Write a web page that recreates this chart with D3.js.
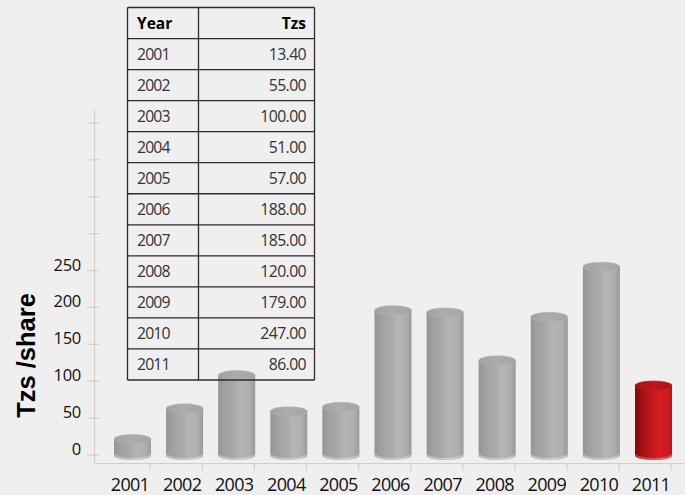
<!DOCTYPE html>
<html>
<head>
<meta charset="utf-8">
<script src="https://cdn.jsdelivr.net/npm/d3@7/dist/d3.min.js"></script>
<style>
  html, body { margin: 0; padding: 0; background: #efefef; }
  svg { display: block; }
</style>
</head>
<body>
<svg id="chart" width="685" height="495"></svg>
<script>
// Share price per year (Tzs)
const years  = ["2001","2002","2003","2004","2005","2006","2007","2008","2009","2010","2011"];
const values = [13.4, 55, 100, 51, 57, 188, 185, 120, 179, 247, 86];
const highlightYear = "2011";

// Value axis: labelled ticks and the unlabelled ones above them
const labelledTicks = [0, 50, 100, 150, 200, 250];
const plainTicks    = [300, 350, 400, 450];

// Table column headings
const tableHeads = ["Year", "Tzs"];

const svg = d3.select("#chart");
const W = 685, H = 495;

svg.append("rect").attr("width", W).attr("height", H).attr("fill", "#efefef");

const x = d3.scaleBand().domain(years).range([106.45, 106.45 + 52.1 * years.length]).padding(0);
const y = d3.scaleLinear().domain([0, 450]).range([455, 123]);

const rx = 18.5, ry = 4.6, depth = 6;
const axisColor = "#cfcfcf";

// ---- gradients ----
const defs = svg.append("defs");
function bodyGrad(id, stops) {
  const g = defs.append("linearGradient").attr("id", id)
    .attr("x1", "0%").attr("x2", "100%").attr("y1", "0%").attr("y2", "0%");
  stops.forEach(([o, c]) => g.append("stop").attr("offset", o).attr("stop-color", c));
}
bodyGrad("grayBody", [["0%", "#929395"], ["12%", "#9d9ea0"], ["45%", "#a9aaac"], ["62%", "#b5b6b8"], ["85%", "#adaeb0"], ["100%", "#98999b"]]);
bodyGrad("redBody",  [["0%", "#7f090b"], ["18%", "#a01014"], ["45%", "#c4181d"], ["65%", "#d71d23"], ["88%", "#cc1a1f"], ["100%", "#b3151a"]]);
bodyGrad("grayTop",  [["0%", "#a1a2a4"], ["50%", "#abacae"], ["100%", "#a3a4a6"]]);
bodyGrad("redTop",   [["0%", "#a51317"], ["50%", "#b9171c"], ["100%", "#ab1418"]]);

// ---- value axis ----
const axisX = 94.5;
svg.append("line").attr("x1", axisX).attr("x2", axisX).attr("y1", 109).attr("y2", 463.5)
  .attr("stroke", axisColor).attr("stroke-width", 1.2);
svg.append("line").attr("x1", axisX).attr("x2", W).attr("y1", 463.5).attr("y2", 463.5)
  .attr("stroke", axisColor).attr("stroke-width", 1.2);

const allTicks = labelledTicks.concat(plainTicks);
svg.append("g").selectAll("line").data(allTicks).join("line")
  .attr("x1", 87).attr("x2", 99.5)
  .attr("y1", d => y(d)).attr("y2", d => y(d))
  .attr("stroke", axisColor).attr("stroke-width", 1.2);

svg.append("g").selectAll("text").data(labelledTicks).join("text")
  .attr("x", 81).attr("y", d => y(d))
  .attr("text-anchor", "end")
  .attr("font-family", "'Open Sans', sans-serif").attr("font-size", 16.5)
  .attr("letter-spacing", -0.3)
  .attr("fill", "#111")
  .text(d => d);

svg.append("text")
  .attr("transform", `translate(35,${355.5}) rotate(-90)`)
  .attr("text-anchor", "middle")
  .attr("font-family", "'Liberation Sans', Arial, sans-serif")
  .attr("font-weight", "bold").attr("font-size", 25.5)
  .attr("fill", "#000")
  .text("Tzs /share");

// ---- category ticks and labels ----
const cx = d => x(d) + x.bandwidth() / 2;
svg.append("g").selectAll("line").data(years).join("line")
  .attr("x1", d => cx(d) + 17.7).attr("x2", d => cx(d) + 17.7)
  .attr("y1", 463.5).attr("y2", 470.5)
  .attr("stroke", axisColor).attr("stroke-width", 1.2);

svg.append("g").selectAll("text").data(years).join("text")
  .attr("x", d => cx(d) - 2.5).attr("y", 491)
  .attr("text-anchor", "middle")
  .attr("font-family", "'Open Sans', sans-serif").attr("font-size", 18)
  .attr("letter-spacing", -0.7)
  .attr("fill", "#111")
  .text(d => d);

// ---- cylinders ----
const data = years.map((yr, i) => ({ year: yr, value: values[i] }));
const bars = svg.append("g").selectAll("g").data(data).join("g");

bars.each(function (d) {
  const g = d3.select(this);
  const c = cx(d.year);
  const top = y(d.value) - depth;
  const bot = y(0) + 0.5;
  const red = d.year === highlightYear;
  const body = red ? "url(#redBody)" : "url(#grayBody)";
  // body with rounded bottom
  g.append("path")
    .attr("d", `M${c - rx},${top} L${c - rx},${bot} A${rx},${ry} 0 0 0 ${c + rx},${bot} L${c + rx},${top} Z`)
    .attr("fill", body);
  // faint light rim near the floor
  g.append("path")
    .attr("d", `M${c - rx + 1},${bot - 1} A${rx - 1},${ry} 0 0 0 ${c + rx - 1},${bot - 1}`)
    .attr("fill", "none")
    .attr("stroke", red ? "rgba(255,190,190,0.35)" : "rgba(230,230,232,0.45)")
    .attr("stroke-width", 2);
  // top face
  g.append("ellipse")
    .attr("cx", c).attr("cy", top).attr("rx", rx).attr("ry", ry)
    .attr("fill", red ? "url(#redTop)" : "url(#grayTop)")
    .attr("stroke", red ? "#c81a1f" : "#b3b4b6").attr("stroke-width", 0.6);
});

// ---- data table ----
const tx0 = 127.5, tx1 = 198.5, tx2 = 314.5, ty0 = 7.5, rowH = 31.04;
const tbl = svg.append("g");
const rows = [tableHeads].concat(years.map((yr, i) => [yr, values[i].toFixed(2)]));

tbl.selectAll("text.year").data(rows).join("text")
  .attr("class", "year")
  .attr("x", tx0 + 9.5).attr("y", (d, i) => ty0 + rowH * i + rowH / 2 + 5.8)
  .attr("font-family", "'Open Sans', sans-serif")
  .attr("font-size", (d, i) => i === 0 ? 15.5 : 15.8)
  .attr("font-weight", (d, i) => i === 0 ? "bold" : "normal")
  .attr("fill", (d, i) => i === 0 ? "#000" : "#333")
  .attr("letter-spacing", (d, i) => i === 0 ? 0 : -0.9)
  .text(d => d[0]);

tbl.selectAll("text.val").data(rows).join("text")
  .attr("class", "val")
  .attr("x", tx2 - 8.5).attr("y", (d, i) => ty0 + rowH * i + rowH / 2 + 5.8)
  .attr("text-anchor", "end")
  .attr("font-family", "'Open Sans', sans-serif")
  .attr("font-size", (d, i) => i === 0 ? 15.5 : 15.8)
  .attr("font-weight", (d, i) => i === 0 ? "bold" : "normal")
  .attr("fill", (d, i) => i === 0 ? "#000" : "#333")
  .attr("letter-spacing", (d, i) => i === 0 ? 0 : -0.6)
  .text(d => d[1]);

const lineColor = "#2b2b2b";
tbl.selectAll("line.h").data(d3.range(rows.length + 1)).join("line")
  .attr("class", "h")
  .attr("x1", tx0).attr("x2", tx2)
  .attr("y1", i => ty0 + rowH * i).attr("y2", i => ty0 + rowH * i)
  .attr("stroke", lineColor).attr("stroke-width", 1.3);
tbl.selectAll("line.v").data([tx0, tx1, tx2]).join("line")
  .attr("class", "v")
  .attr("x1", d => d).attr("x2", d => d)
  .attr("y1", ty0).attr("y2", ty0 + rowH * rows.length)
  .attr("stroke", lineColor).attr("stroke-width", 1.3);
</script>
</body>
</html>
